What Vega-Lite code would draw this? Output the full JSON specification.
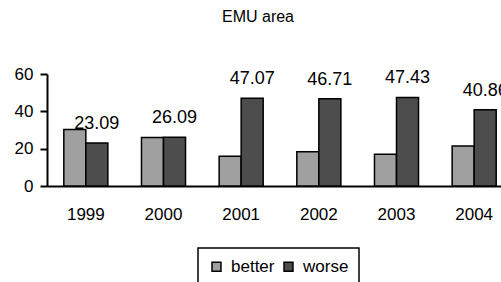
{
  "$schema": "https://vega.github.io/schema/vega-lite/v6.json",
  "autosize": "none",
  "width": 466,
  "height": 112,
  "padding": {"left": 47, "top": 74, "right": 0, "bottom": 96},
  "background": "white",
  "config": {
    "font": "Liberation Sans",
    "view": {"stroke": null}
  },
  "title": {
    "text": "EMU area",
    "fontSize": 16,
    "fontWeight": "normal",
    "font": "Liberation Sans",
    "color": "black",
    "anchor": "middle",
    "dx": -22,
    "offset": 40
  },
  "data": {
    "values": [
      {"year": "1999", "series": "better", "value": 30.3, "label": ""},
      {"year": "1999", "series": "worse", "value": 23.09, "label": "23.09"},
      {"year": "2000", "series": "better", "value": 26.0, "label": ""},
      {"year": "2000", "series": "worse", "value": 26.09, "label": "26.09"},
      {"year": "2001", "series": "better", "value": 16.0, "label": ""},
      {"year": "2001", "series": "worse", "value": 47.07, "label": "47.07"},
      {"year": "2002", "series": "better", "value": 18.3, "label": ""},
      {"year": "2002", "series": "worse", "value": 46.71, "label": "46.71"},
      {"year": "2003", "series": "better", "value": 17.0, "label": ""},
      {"year": "2003", "series": "worse", "value": 47.43, "label": "47.43"},
      {"year": "2004", "series": "better", "value": 21.4, "label": ""},
      {"year": "2004", "series": "worse", "value": 40.86, "label": "40.86"}
    ]
  },
  "encoding": {
    "x": {
      "field": "year",
      "type": "nominal",
      "scale": {"paddingInner": 0.433, "paddingOuter": 0.2165},
      "axis": {
        "title": null,
        "labelAngle": 0,
        "labelFontSize": 17,
        "labelColor": "black",
        "labelPadding": 20,
        "ticks": false,
        "domainColor": "black",
        "domainWidth": 2
      }
    },
    "xOffset": {"field": "series", "type": "nominal", "scale": {"paddingInner": 0, "paddingOuter": 0}},
    "y": {
      "field": "value",
      "type": "quantitative",
      "scale": {"domain": [0, 60], "nice": false},
      "axis": {
        "title": null,
        "values": [0, 20, 40, 60],
        "grid": false,
        "labelFontSize": 17,
        "labelColor": "black",
        "labelPadding": 7,
        "tickSize": 7,
        "tickColor": "black",
        "tickWidth": 2,
        "domainColor": "black",
        "domainWidth": 2
      }
    }
  },
  "layer": [
    {
      "mark": {"type": "bar", "stroke": "black", "strokeWidth": 1.5},
      "encoding": {
        "color": {
          "field": "series",
          "type": "nominal",
          "scale": {"domain": ["better", "worse"], "range": ["#a0a0a0", "#4d4d4d"]},
          "legend": {
            "title": null,
            "orient": "none",
            "legendX": 151,
            "legendY": 174,
            "direction": "horizontal",
            "symbolType": "square",
            "symbolSize": 80,
            "symbolStrokeColor": "black",
            "symbolStrokeWidth": 1.5,
            "labelFontSize": 17,
            "labelColor": "black",
            "labelOffset": 6,
            "columnPadding": 5,
            "padding": 10,
            "strokeColor": "black",
            "fillColor": "white",
            "encode": {"legend": {"update": {"strokeWidth": {"value": 1.5}}}}
          }
        }
      }
    },
    {
      "mark": {"type": "text", "fontSize": 18, "color": "black", "baseline": "alphabetic", "dy": -14},
      "encoding": {
        "text": {"field": "label"}
      }
    }
  ]
}
